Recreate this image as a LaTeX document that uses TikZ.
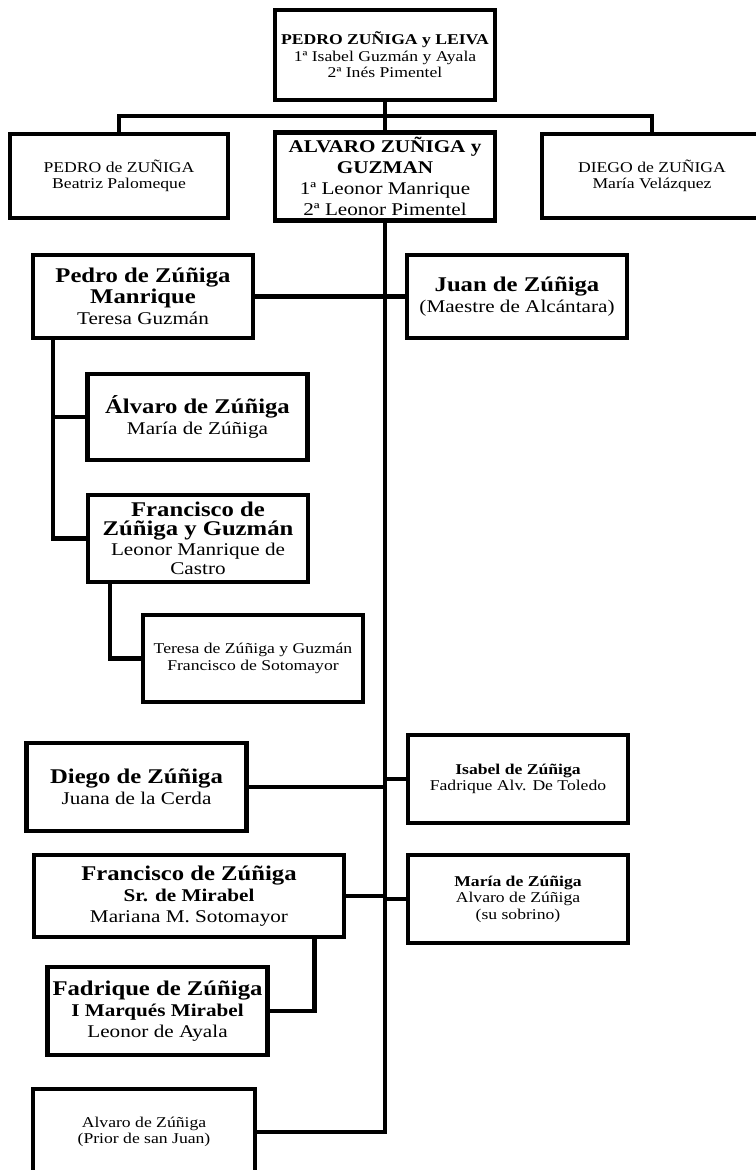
\documentclass[tikz,border=0pt]{standalone}
\usepackage{fontspec}
\setmainfont{Liberation Serif}[FakeStretch=1.18]
\usepackage{tikz}
\usetikzlibrary{calc}

\newcommand{\nombre}[1]{{\fontsize{21}{23}\selectfont\bfseries #1}}

\begin{document}
\begin{tikzpicture}[
    bigbox/.style={draw,line width=4.6bp,align=center,inner sep=0pt,minimum width=220bp,minimum height=87bp,font=\fontsize{18}{21}\selectfont},
    smallbox/.style={bigbox,font=\fontsize{15}{16.5}\selectfont},
    link/.style={line width=4.4bp}]
    \useasboundingbox (0bp,0bp) rectangle (756bp,-1170bp);
    \node (pleiva) at (385bp,-55bp)[smallbox,minimum width=220bp,minimum height=90bp] {\textbf{PEDRO ZUÑIGA y LEIVA}\\1ª Isabel Guzmán y Ayala\\2ª Inés Pimentel};
    \node (pedro1) at (119bp,-176bp)[smallbox,minimum width=218bp,minimum height=84bp] {PEDRO de ZUÑIGA\\Beatriz Palomeque};
    \node (alvaro) at (385bp,-176.5bp)[bigbox,minimum height=88bp] {\textbf{ALVARO ZUÑIGA y}\\\textbf{GUZMAN}\\1ª Leonor Manrique\\2ª Leonor Pimentel};
    \node (diego1) at (652bp,-176bp)[smallbox,minimum width=220bp,minimum height=84bp] {DIEGO de ZUÑIGA\\María Velázquez};
    \node (pmanrique) at (143bp,-296.5bp)[bigbox,minimum height=83bp] {\nombre{Pedro de Zúñiga}\\\nombre{Manrique}\\Teresa Guzmán};
    \node (juan) at (517bp,-296.5bp)[bigbox,minimum height=83bp] {\nombre{Juan de Zúñiga}\\(Maestre de Alcántara)};
    \node (alvaro2) at (197.5bp,-417bp)[bigbox,minimum height=86bp] {\nombre{Álvaro de Zúñiga}\\María de Zúñiga};
    \node (fguzman) at (198bp,-538.5bp)[bigbox,font=\fontsize{18}{19.5}\selectfont] {\nombre{Francisco de}\\\nombre{Zúñiga y Guzmán}\\Leonor Manrique de\\Castro};
    \node (teresa) at (253bp,-658.5bp)[smallbox] {Teresa de Zúñiga y Guzmán\\Francisco de Sotomayor};
    \node (diego2) at (136.5bp,-787bp)[bigbox,minimum height=88bp] {\nombre{Diego de Zúñiga}\\Juana de la Cerda};
    \node (isabel) at (518bp,-779bp)[smallbox,minimum height=88bp] {\textbf{Isabel de Zúñiga}\\Fadrique Alv. De Toledo};
    \node (fmirabel) at (189bp,-896bp)[bigbox,minimum width=310bp,minimum height=82bp] {\nombre{Francisco de Zúñiga}\\\textbf{Sr. de Mirabel}\\Mariana M. Sotomayor};
    \node (maria) at (518bp,-899bp)[smallbox,minimum height=88bp] {\textbf{María de Zúñiga}\\Alvaro de Zúñiga\\(su sobrino)};
    \node (fadrique) at (157.5bp,-1011bp)[bigbox,minimum height=88bp] {\nombre{Fadrique de Zúñiga}\\\textbf{I Marqués Mirabel}\\Leonor de Ayala};
    \node (aprior) at (144bp,-1132bp)[smallbox,minimum width=222bp,minimum height=86bp] {Alvaro de Zúñiga\\(Prior de san Juan)};

    \coordinate (bar) at (385bp,-116bp);
    \coordinate (pm) at ([xshift=22bp]pmanrique.south west);
    \coordinate (fg) at ([xshift=24bp]fguzman.south west);
    \coordinate (fm) at ([xshift=-32bp]fmirabel.south east);

    \draw [link] (pleiva) -- (alvaro);
    \draw [link] (pedro1.north) |- (bar) -| (diego1.north);
    \draw [link] (alvaro.south) |- (aprior.east);
    \draw [link] (pmanrique.east) -- (juan.west);
    \draw [link] (pm) |- (fguzman.west);
    \draw [link] (alvaro2.west) -- (alvaro2.west -| pm);
    \draw [link] (fg) |- (teresa.west);
    \draw [link] (diego2.east) -- (diego2.east -| alvaro.south);
    \draw [link] (isabel.west) -- (isabel.west -| alvaro.south);
    \draw [link] (fmirabel.east) -- (fmirabel.east -| alvaro.south);
    \draw [link] (maria.west) -- (maria.west -| alvaro.south);
    \draw [link] (fm) |- (fadrique.east);
\end{tikzpicture}
\end{document}
